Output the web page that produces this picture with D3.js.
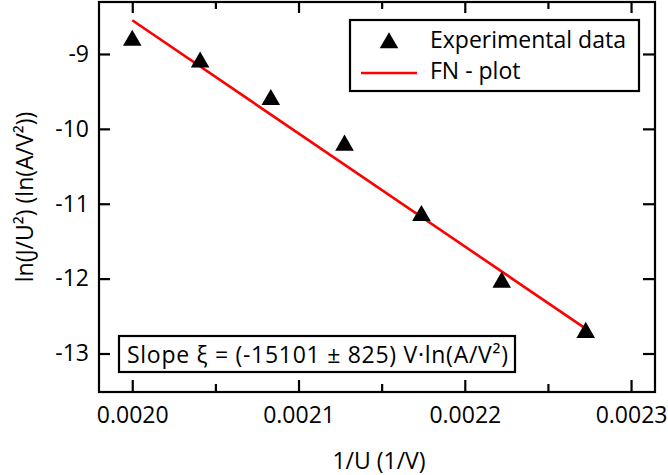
<!DOCTYPE html>
<html>
<head>
<meta charset="utf-8">
<script src="https://cdn.jsdelivr.net/npm/d3@7"></script>
<style>
  body { margin: 0; background: #fff; }
  svg { display: block; }
  text { font-family: "Open Sans", "Noto Sans", sans-serif; fill: #000; }
</style>
</head>
<body>
<svg id="chart" width="668" height="475"></svg>
<script>
// ---- data ----
const invU = [1/500, 1/490, 1/480, 1/470, 1/460, 1/450, 1/440];
const lnJU2 = [-8.82, -9.11, -9.61, -10.22, -11.16, -12.05, -12.72];
const fitX = [0.0020, 0.0022727];
const fitY = [-8.55, -12.668];
const xTicks = [0.0020, 0.0021, 0.0022, 0.0023];
const xTickLabels = ["0.0020", "0.0021", "0.0022", "0.0023"];
const xMinorTicks = [0.00205, 0.00215, 0.00225];
const yTicks = [-9, -10, -11, -12, -13];
const legendLabels = ["Experimental data", "FN - plot"];
const xTitle = "1/U (1/V)";
const yTitle = "ln(J/U²) (ln(A/V²))";
const slopeText = "Slope ξ = (-15101 ± 825) V·ln(A/V²)";

// ---- layout ----
const L = 99, R = 655, T = 2, B = 392;
const svg = d3.select("#chart");
const x = d3.scaleLinear().domain([0.00198, 0.0023144]).range([L, R]);
const y = d3.scaleLinear().domain([-13.514, -8.306]).range([B, T]);
const FS = 23;

// frame
svg.append("rect").attr("x", L).attr("y", T).attr("width", R - L).attr("height", B - T)
  .attr("fill", "none").attr("stroke", "#000").attr("stroke-width", 2.2);

// bottom axis (ticks inward)
const gB = svg.append("g").attr("transform", `translate(0,${B})`)
  .call(d3.axisBottom(x).tickValues(xTicks).tickFormat((d, i) => xTickLabels[i]).tickSize(-12).tickPadding(15));
const gBm = svg.append("g").attr("transform", `translate(0,${B})`)
  .call(d3.axisBottom(x).tickValues(xMinorTicks).tickFormat("").tickSize(-8));
// top axis
const gT = svg.append("g").attr("transform", `translate(0,${T})`)
  .call(d3.axisTop(x).tickValues(xTicks).tickFormat("").tickSize(-11));
const gTm = svg.append("g").attr("transform", `translate(0,${T})`)
  .call(d3.axisTop(x).tickValues(xMinorTicks).tickFormat("").tickSize(-7));
// left axis
const gL = svg.append("g").attr("transform", `translate(${L},0)`)
  .call(d3.axisLeft(y).tickValues(yTicks).tickFormat(d3.format("d")).tickSize(-11).tickPadding(10));
// right axis
const gR = svg.append("g").attr("transform", `translate(${R},0)`)
  .call(d3.axisRight(y).tickValues(yTicks).tickFormat("").tickSize(-12));

[gB, gBm, gT, gTm, gL, gR].forEach(g => {
  g.select(".domain").remove();
  g.selectAll(".tick line").attr("stroke", "#000").attr("stroke-width", 2.2);
  g.selectAll(".tick text").attr("font-size", FS).attr("font-family", '"Open Sans", sans-serif').attr("fill", "#000");
});
gL.selectAll(".tick text").text(d => d < 0 ? "-" + Math.abs(d) : d);

// axis titles
svg.append("text").attr("x", 379).attr("y", 469).attr("text-anchor", "middle")
  .attr("font-size", FS).text(xTitle);
svg.append("text").attr("transform", `translate(33,${(T + B) / 2}) rotate(-90)`)
  .attr("text-anchor", "middle").attr("font-size", FS).text(yTitle);

// fit line
svg.append("line")
  .attr("x1", x(fitX[0])).attr("y1", y(fitY[0]))
  .attr("x2", x(fitX[1])).attr("y2", y(fitY[1]))
  .attr("stroke", "#ff0000").attr("stroke-width", 2.6);

// data markers
const tri = d3.symbol().type(d3.symbolTriangle).size(150);
svg.append("g").selectAll("path").data(invU).join("path")
  .attr("d", tri)
  .attr("transform", (d, i) => `translate(${x(d)},${y(lnJU2[i])})`)
  .attr("fill", "#000");

// legend
svg.append("rect").attr("x", 350).attr("y", 20).attr("width", 289).attr("height", 71)
  .attr("fill", "#fff").attr("stroke", "#000").attr("stroke-width", 2.2);
svg.append("path").attr("d", tri).attr("transform", "translate(389,43)").attr("fill", "#000");
svg.append("line").attr("x1", 361).attr("x2", 417).attr("y1", 73).attr("y2", 73)
  .attr("stroke", "#ff0000").attr("stroke-width", 2.6);
svg.append("text").attr("x", 430).attr("y", 48).attr("font-size", FS).text(legendLabels[0]);
svg.append("text").attr("x", 430).attr("y", 79).attr("font-size", FS).text(legendLabels[1]);

// slope box
svg.append("rect").attr("x", 119).attr("y", 336).attr("width", 396).attr("height", 36)
  .attr("fill", "#fff").attr("stroke", "#000").attr("stroke-width", 2.2);
svg.append("text").attr("x", 127).attr("y", 363).attr("font-size", FS)
  .attr("textLength", 381).attr("lengthAdjust", "spacing").text(slopeText);
</script>
</body>
</html>
